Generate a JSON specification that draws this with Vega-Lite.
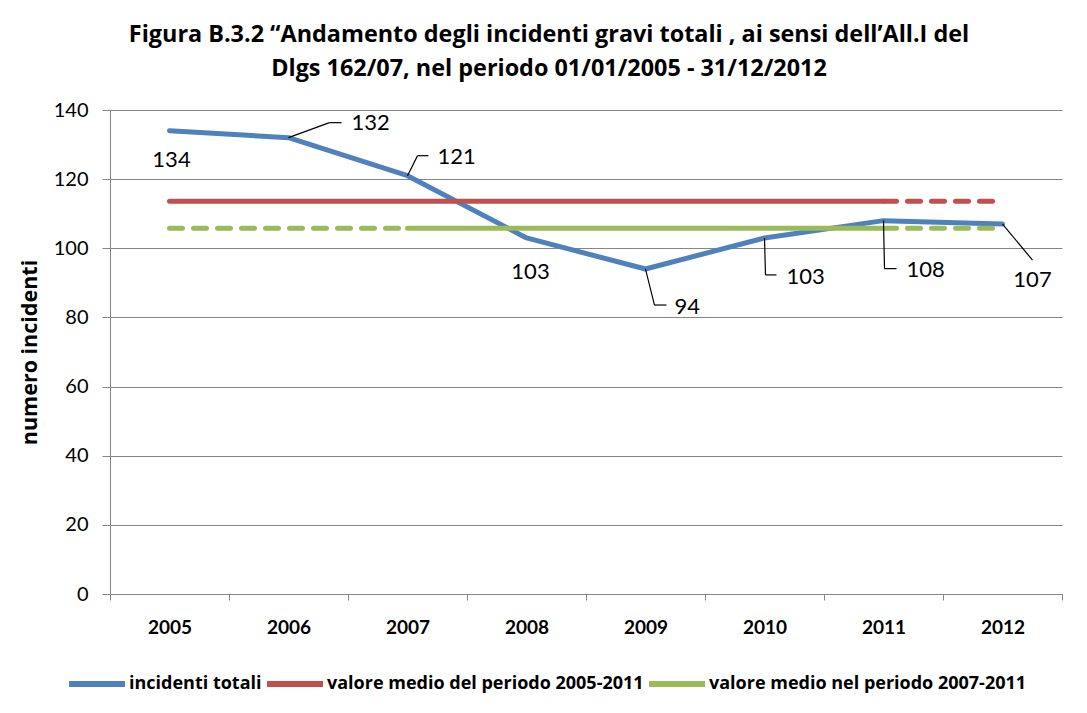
{
  "$schema": "https://vega.github.io/schema/vega-lite/v6.json",
  "width": 952,
  "height": 484,
  "autosize": {"type": "none"},
  "padding": {"left": 110, "top": 110, "right": 25, "bottom": 119},
  "background": "white",
  "config": {
    "font": "Lato",
    "view": {"stroke": null},
    "axis": {"domainColor": "#868686", "tickColor": "#868686", "gridColor": "#868686", "labelColor": "black", "titleColor": "black"}
  },
  "title": {
    "text": ["Figura B.3.2 “Andamento degli incidenti gravi totali , ai sensi dell’All.I del", "Dlgs 162/07, nel periodo 01/01/2005 - 31/12/2012"],
    "font": "Open Sans",
    "fontSize": 23.4,
    "fontWeight": "bold",
    "lineHeight": 34,
    "anchor": "middle",
    "dx": -37,
    "offset": 19,
    "color": "black"
  },
  "datasets": {
    "tot": [
      {"anno": "2005", "valore": 134, "serie": "incidenti totali", "tratto": "pieno", "seg": "b"},
      {"anno": "2006", "valore": 132, "serie": "incidenti totali", "tratto": "pieno", "seg": "b"},
      {"anno": "2007", "valore": 121, "serie": "incidenti totali", "tratto": "pieno", "seg": "b"},
      {"anno": "2008", "valore": 103, "serie": "incidenti totali", "tratto": "pieno", "seg": "b"},
      {"anno": "2009", "valore": 94, "serie": "incidenti totali", "tratto": "pieno", "seg": "b"},
      {"anno": "2010", "valore": 103, "serie": "incidenti totali", "tratto": "pieno", "seg": "b"},
      {"anno": "2011", "valore": 108, "serie": "incidenti totali", "tratto": "pieno", "seg": "b"},
      {"anno": "2012", "valore": 107, "serie": "incidenti totali", "tratto": "pieno", "seg": "b"}
    ],
    "medie": [
      {"anno": "2005", "valore": 113.6, "serie": "valore medio del periodo 2005-2011", "tratto": "pieno", "seg": "r1"},
      {"anno": "2011", "valore": 113.6, "serie": "valore medio del periodo 2005-2011", "tratto": "pieno", "seg": "r1"},
      {"anno": "2011", "valore": 113.6, "serie": "valore medio del periodo 2005-2011", "tratto": "tratteggiato", "seg": "r2"},
      {"anno": "2012", "valore": 113.6, "serie": "valore medio del periodo 2005-2011", "tratto": "tratteggiato", "seg": "r2"},
      {"anno": "2005", "valore": 105.8, "serie": "valore medio nel periodo 2007-2011", "tratto": "tratteggiato", "seg": "g1"},
      {"anno": "2007", "valore": 105.8, "serie": "valore medio nel periodo 2007-2011", "tratto": "tratteggiato", "seg": "g1"},
      {"anno": "2007", "valore": 105.8, "serie": "valore medio nel periodo 2007-2011", "tratto": "pieno", "seg": "g2"},
      {"anno": "2011", "valore": 105.8, "serie": "valore medio nel periodo 2007-2011", "tratto": "pieno", "seg": "g2"},
      {"anno": "2011", "valore": 105.8, "serie": "valore medio nel periodo 2007-2011", "tratto": "tratteggiato", "seg": "g3"},
      {"anno": "2012", "valore": 105.8, "serie": "valore medio nel periodo 2007-2011", "tratto": "tratteggiato", "seg": "g3"}
    ]
  },
  "encoding": {
    "x": {
      "field": "anno", "type": "ordinal",
      "scale": {"type": "band", "paddingInner": 0, "paddingOuter": 0},
      "axis": {"title": null, "labelAngle": 0, "labelFontSize": 19, "labelFontWeight": "bold", "labelPadding": 18, "tickBand": "extent", "tickSize": 6, "grid": false}
    },
    "y": {
      "field": "valore", "type": "quantitative",
      "scale": {"domain": [0, 140], "nice": false},
      "axis": {"title": "numero incidenti", "titleFont": "Open Sans", "titleFontSize": 21.5, "titleFontWeight": "bold", "titlePadding": 12, "values": [0, 20, 40, 60, 80, 100, 120, 140], "labelFontSize": 20, "labelPadding": 14, "tickSize": 8, "grid": true}
    }
  },
  "layer": [
    {
      "data": {"name": "tot"},
      "mark": {"type": "line", "strokeWidth": 5, "strokeCap": "round", "strokeJoin": "round"},
      "encoding": {
        "color": {"field": "serie", "type": "nominal",
          "scale": {"domain": ["incidenti totali", "valore medio del periodo 2005-2011", "valore medio nel periodo 2007-2011"], "range": ["#4F81BD", "#C0504D", "#9BBB59"]},
          "legend": {"title": null, "orient": "none", "legendX": -44, "legendY": 543, "direction": "horizontal", "symbolType": "stroke", "symbolSize": 3136, "symbolStrokeWidth": 6, "labelFontSize": 18, "labelFontWeight": "bold", "labelFont": "Open Sans", "labelOffset": 1, "columnPadding": -7, "labelLimit": 500}},
        "detail": {"field": "seg"}
      }
    },
    {
      "data": {"name": "medie"},
      "mark": {"type": "line", "strokeWidth": 5, "strokeCap": "round"},
      "encoding": {
        "color": {"field": "serie", "type": "nominal"},
        "strokeDash": {"field": "tratto", "type": "nominal", "scale": {"domain": ["pieno", "tratteggiato"], "range": [[1, 0], [13, 11]]}, "legend": null},
        "detail": {"field": "seg"}
      }
    },
    {"data": {"name": "tot"}, "transform": [{"filter": "datum.anno == '2005'"}], "mark": {"type": "text", "fontSize": 22, "align": "center", "baseline": "middle", "dx": 2, "dy": 29}, "encoding": {"text": {"field": "valore"}}},
    {"data": {"name": "tot"}, "transform": [{"filter": "datum.anno == '2006'"}], "mark": {"type": "text", "fontSize": 22, "align": "left", "baseline": "middle", "dx": 63, "dy": -15}, "encoding": {"text": {"field": "valore"}}},
    {"data": {"name": "tot"}, "transform": [{"filter": "datum.anno == '2007'"}], "mark": {"type": "text", "fontSize": 22, "align": "left", "baseline": "middle", "dx": 30, "dy": -19}, "encoding": {"text": {"field": "valore"}}},
    {"data": {"name": "tot"}, "transform": [{"filter": "datum.anno == '2008'"}], "mark": {"type": "text", "fontSize": 22, "align": "center", "baseline": "middle", "dx": 4, "dy": 34}, "encoding": {"text": {"field": "valore"}}},
    {"data": {"name": "tot"}, "transform": [{"filter": "datum.anno == '2009'"}], "mark": {"type": "text", "fontSize": 22, "align": "left", "baseline": "middle", "dx": 29, "dy": 38}, "encoding": {"text": {"field": "valore"}}},
    {"data": {"name": "tot"}, "transform": [{"filter": "datum.anno == '2010'"}], "mark": {"type": "text", "fontSize": 22, "align": "left", "baseline": "middle", "dx": 22, "dy": 39}, "encoding": {"text": {"field": "valore"}}},
    {"data": {"name": "tot"}, "transform": [{"filter": "datum.anno == '2011'"}], "mark": {"type": "text", "fontSize": 22, "align": "left", "baseline": "middle", "dx": 23, "dy": 49}, "encoding": {"text": {"field": "valore"}}},
    {"data": {"name": "tot"}, "transform": [{"filter": "datum.anno == '2012'"}], "mark": {"type": "text", "fontSize": 22, "align": "center", "baseline": "middle", "dx": 30, "dy": 56}, "encoding": {"text": {"field": "valore"}}},
    {"data": {"name": "tot"}, "transform": [{"filter": "datum.anno == '2006'"}], "mark": {"type": "rule", "color": "black", "strokeWidth": 1.2, "xOffset": 0, "yOffset": 0, "x2Offset": 41, "y2Offset": -15}, "encoding": {"x2": {"field": "anno"}, "y2": {"field": "valore"}}},
    {"data": {"name": "tot"}, "transform": [{"filter": "datum.anno == '2006'"}], "mark": {"type": "rule", "color": "black", "strokeWidth": 1.2, "xOffset": 41, "yOffset": -15, "x2Offset": 53, "y2Offset": -15}, "encoding": {"x2": {"field": "anno"}, "y2": {"field": "valore"}}},
    {"data": {"name": "tot"}, "transform": [{"filter": "datum.anno == '2007'"}], "mark": {"type": "rule", "color": "black", "strokeWidth": 1.2, "xOffset": 0, "yOffset": 0, "x2Offset": 10, "y2Offset": -20}, "encoding": {"x2": {"field": "anno"}, "y2": {"field": "valore"}}},
    {"data": {"name": "tot"}, "transform": [{"filter": "datum.anno == '2007'"}], "mark": {"type": "rule", "color": "black", "strokeWidth": 1.2, "xOffset": 10, "yOffset": -20, "x2Offset": 21, "y2Offset": -20}, "encoding": {"x2": {"field": "anno"}, "y2": {"field": "valore"}}},
    {"data": {"name": "tot"}, "transform": [{"filter": "datum.anno == '2009'"}], "mark": {"type": "rule", "color": "black", "strokeWidth": 1.2, "xOffset": 0, "yOffset": 0, "x2Offset": 9, "y2Offset": 36}, "encoding": {"x2": {"field": "anno"}, "y2": {"field": "valore"}}},
    {"data": {"name": "tot"}, "transform": [{"filter": "datum.anno == '2009'"}], "mark": {"type": "rule", "color": "black", "strokeWidth": 1.2, "xOffset": 9, "yOffset": 36, "x2Offset": 21, "y2Offset": 36}, "encoding": {"x2": {"field": "anno"}, "y2": {"field": "valore"}}},
    {"data": {"name": "tot"}, "transform": [{"filter": "datum.anno == '2010'"}], "mark": {"type": "rule", "color": "black", "strokeWidth": 1.2, "xOffset": 0, "yOffset": 0, "x2Offset": 1, "y2Offset": 37}, "encoding": {"x2": {"field": "anno"}, "y2": {"field": "valore"}}},
    {"data": {"name": "tot"}, "transform": [{"filter": "datum.anno == '2010'"}], "mark": {"type": "rule", "color": "black", "strokeWidth": 1.2, "xOffset": 1, "yOffset": 37, "x2Offset": 12, "y2Offset": 37}, "encoding": {"x2": {"field": "anno"}, "y2": {"field": "valore"}}},
    {"data": {"name": "tot"}, "transform": [{"filter": "datum.anno == '2011'"}], "mark": {"type": "rule", "color": "black", "strokeWidth": 1.2, "xOffset": 0, "yOffset": 0, "x2Offset": 1, "y2Offset": 48}, "encoding": {"x2": {"field": "anno"}, "y2": {"field": "valore"}}},
    {"data": {"name": "tot"}, "transform": [{"filter": "datum.anno == '2011'"}], "mark": {"type": "rule", "color": "black", "strokeWidth": 1.2, "xOffset": 1, "yOffset": 48, "x2Offset": 13, "y2Offset": 48}, "encoding": {"x2": {"field": "anno"}, "y2": {"field": "valore"}}},
    {"data": {"name": "tot"}, "transform": [{"filter": "datum.anno == '2012'"}], "mark": {"type": "rule", "color": "black", "strokeWidth": 1.2, "xOffset": 0, "yOffset": 0, "x2Offset": 30, "y2Offset": 36}, "encoding": {"x2": {"field": "anno"}, "y2": {"field": "valore"}}}
  ]
}
